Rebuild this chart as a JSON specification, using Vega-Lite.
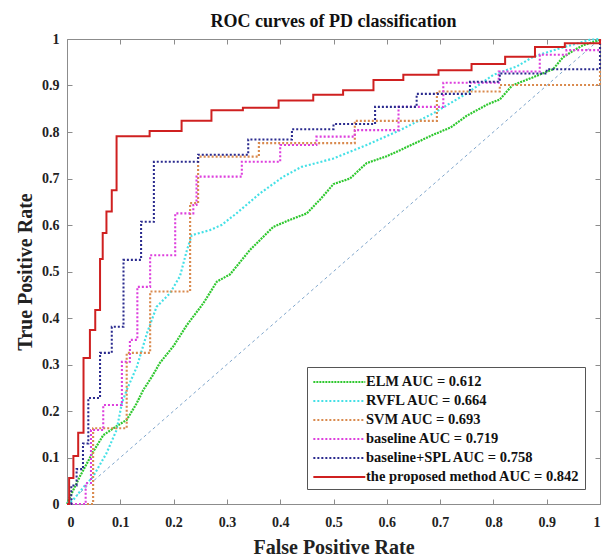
{
  "$schema": "https://vega.github.io/schema/vega-lite/v6.json",
  "autosize": {"type": "none"},
  "padding": {"left": 67, "top": 39, "right": 6, "bottom": 56},
  "width": 533,
  "height": 465,
  "background": "white",
  "title": {
    "text": "ROC curves of PD classification",
    "font": "Liberation Serif",
    "fontSize": 18,
    "fontWeight": "bold",
    "color": "#111",
    "anchor": "middle",
    "offset": 1
  },
  "config": {
    "view": {"stroke": "#8c8c8c", "strokeWidth": 1},
    "axis": {
      "grid": false,
      "domainColor": "#8c8c8c",
      "tickColor": "#8c8c8c",
      "labelFont": "Liberation Serif",
      "labelFontWeight": "bold",
      "labelFontSize": 14,
      "labelColor": "#222",
      "titleFont": "Liberation Serif",
      "titleFontWeight": "bold",
      "titleFontSize": 20,
      "titleColor": "#222"
    },
    "legend": {
      "strokeColor": "#555",
      "fillColor": "white",
      "padding": 5,
      "labelFont": "Liberation Serif",
      "labelFontWeight": "bold",
      "labelFontSize": 14.5,
      "labelColor": "#111",
      "labelLimit": 400,
      "symbolType": "M-1,0H5",
      "symbolSize": 300,
      "rowPadding": 2,
      "labelOffset": 34
    }
  },
  "datasets": {
    "diag": [{"fpr": 0, "tpr": 0}, {"fpr": 1, "tpr": 1}],
    "smooth": [
      {"model": "ELM AUC = 0.612", "fpr": 0, "tpr": 0},
      {"model": "ELM AUC = 0.612", "fpr": 0.006, "tpr": 0.016},
      {"model": "ELM AUC = 0.612", "fpr": 0.024, "tpr": 0.059},
      {"model": "ELM AUC = 0.612", "fpr": 0.049, "tpr": 0.112},
      {"model": "ELM AUC = 0.612", "fpr": 0.068, "tpr": 0.148},
      {"model": "ELM AUC = 0.612", "fpr": 0.09, "tpr": 0.165},
      {"model": "ELM AUC = 0.612", "fpr": 0.112, "tpr": 0.181},
      {"model": "ELM AUC = 0.612", "fpr": 0.13, "tpr": 0.215},
      {"model": "ELM AUC = 0.612", "fpr": 0.143, "tpr": 0.245},
      {"model": "ELM AUC = 0.612", "fpr": 0.16, "tpr": 0.275},
      {"model": "ELM AUC = 0.612", "fpr": 0.174, "tpr": 0.303},
      {"model": "ELM AUC = 0.612", "fpr": 0.2, "tpr": 0.34},
      {"model": "ELM AUC = 0.612", "fpr": 0.225, "tpr": 0.385},
      {"model": "ELM AUC = 0.612", "fpr": 0.256, "tpr": 0.432},
      {"model": "ELM AUC = 0.612", "fpr": 0.281, "tpr": 0.478},
      {"model": "ELM AUC = 0.612", "fpr": 0.306, "tpr": 0.494},
      {"model": "ELM AUC = 0.612", "fpr": 0.343, "tpr": 0.546},
      {"model": "ELM AUC = 0.612", "fpr": 0.387, "tpr": 0.596},
      {"model": "ELM AUC = 0.612", "fpr": 0.418, "tpr": 0.611},
      {"model": "ELM AUC = 0.612", "fpr": 0.45, "tpr": 0.625},
      {"model": "ELM AUC = 0.612", "fpr": 0.475, "tpr": 0.655},
      {"model": "ELM AUC = 0.612", "fpr": 0.5, "tpr": 0.688},
      {"model": "ELM AUC = 0.612", "fpr": 0.531, "tpr": 0.7},
      {"model": "ELM AUC = 0.612", "fpr": 0.562, "tpr": 0.733},
      {"model": "ELM AUC = 0.612", "fpr": 0.6, "tpr": 0.748},
      {"model": "ELM AUC = 0.612", "fpr": 0.625, "tpr": 0.761},
      {"model": "ELM AUC = 0.612", "fpr": 0.687, "tpr": 0.794},
      {"model": "ELM AUC = 0.612", "fpr": 0.72, "tpr": 0.81},
      {"model": "ELM AUC = 0.612", "fpr": 0.75, "tpr": 0.835},
      {"model": "ELM AUC = 0.612", "fpr": 0.79, "tpr": 0.86},
      {"model": "ELM AUC = 0.612", "fpr": 0.812, "tpr": 0.87},
      {"model": "ELM AUC = 0.612", "fpr": 0.835, "tpr": 0.9},
      {"model": "ELM AUC = 0.612", "fpr": 0.875, "tpr": 0.918},
      {"model": "ELM AUC = 0.612", "fpr": 0.912, "tpr": 0.935},
      {"model": "ELM AUC = 0.612", "fpr": 0.93, "tpr": 0.96},
      {"model": "ELM AUC = 0.612", "fpr": 0.95, "tpr": 0.975},
      {"model": "ELM AUC = 0.612", "fpr": 0.969, "tpr": 0.987},
      {"model": "ELM AUC = 0.612", "fpr": 1, "tpr": 0.998},
      {"model": "RVFL AUC = 0.664", "fpr": 0, "tpr": 0},
      {"model": "RVFL AUC = 0.664", "fpr": 0.012, "tpr": 0.009},
      {"model": "RVFL AUC = 0.664", "fpr": 0.03, "tpr": 0.035},
      {"model": "RVFL AUC = 0.664", "fpr": 0.049, "tpr": 0.059},
      {"model": "RVFL AUC = 0.664", "fpr": 0.074, "tpr": 0.109},
      {"model": "RVFL AUC = 0.664", "fpr": 0.093, "tpr": 0.159},
      {"model": "RVFL AUC = 0.664", "fpr": 0.103, "tpr": 0.217},
      {"model": "RVFL AUC = 0.664", "fpr": 0.112, "tpr": 0.245},
      {"model": "RVFL AUC = 0.664", "fpr": 0.131, "tpr": 0.295},
      {"model": "RVFL AUC = 0.664", "fpr": 0.15, "tpr": 0.367},
      {"model": "RVFL AUC = 0.664", "fpr": 0.168, "tpr": 0.424},
      {"model": "RVFL AUC = 0.664", "fpr": 0.193, "tpr": 0.453},
      {"model": "RVFL AUC = 0.664", "fpr": 0.212, "tpr": 0.49},
      {"model": "RVFL AUC = 0.664", "fpr": 0.225, "tpr": 0.546},
      {"model": "RVFL AUC = 0.664", "fpr": 0.234, "tpr": 0.578},
      {"model": "RVFL AUC = 0.664", "fpr": 0.268, "tpr": 0.589},
      {"model": "RVFL AUC = 0.664", "fpr": 0.29, "tpr": 0.6},
      {"model": "RVFL AUC = 0.664", "fpr": 0.318, "tpr": 0.625},
      {"model": "RVFL AUC = 0.664", "fpr": 0.362, "tpr": 0.668},
      {"model": "RVFL AUC = 0.664", "fpr": 0.406, "tpr": 0.704},
      {"model": "RVFL AUC = 0.664", "fpr": 0.44, "tpr": 0.725},
      {"model": "RVFL AUC = 0.664", "fpr": 0.5, "tpr": 0.743},
      {"model": "RVFL AUC = 0.664", "fpr": 0.562, "tpr": 0.772},
      {"model": "RVFL AUC = 0.664", "fpr": 0.625, "tpr": 0.804},
      {"model": "RVFL AUC = 0.664", "fpr": 0.687, "tpr": 0.84},
      {"model": "RVFL AUC = 0.664", "fpr": 0.75, "tpr": 0.883},
      {"model": "RVFL AUC = 0.664", "fpr": 0.8, "tpr": 0.923},
      {"model": "RVFL AUC = 0.664", "fpr": 0.844, "tpr": 0.941},
      {"model": "RVFL AUC = 0.664", "fpr": 0.875, "tpr": 0.962},
      {"model": "RVFL AUC = 0.664", "fpr": 0.925, "tpr": 0.98},
      {"model": "RVFL AUC = 0.664", "fpr": 0.98, "tpr": 0.998},
      {"model": "RVFL AUC = 0.664", "fpr": 1, "tpr": 1}
    ],
    "steps": [
      {"model": "SVM AUC = 0.693", "fpr": 0, "tpr": 0},
      {"model": "SVM AUC = 0.693", "fpr": 0.049, "tpr": 0.163},
      {"model": "SVM AUC = 0.693", "fpr": 0.112, "tpr": 0.325},
      {"model": "SVM AUC = 0.693", "fpr": 0.156, "tpr": 0.457},
      {"model": "SVM AUC = 0.693", "fpr": 0.231, "tpr": 0.647},
      {"model": "SVM AUC = 0.693", "fpr": 0.246, "tpr": 0.747},
      {"model": "SVM AUC = 0.693", "fpr": 0.36, "tpr": 0.776},
      {"model": "SVM AUC = 0.693", "fpr": 0.54, "tpr": 0.824},
      {"model": "SVM AUC = 0.693", "fpr": 0.694, "tpr": 0.887},
      {"model": "SVM AUC = 0.693", "fpr": 0.812, "tpr": 0.901},
      {"model": "SVM AUC = 0.693", "fpr": 1, "tpr": 1},
      {"model": "baseline AUC = 0.719", "fpr": 0, "tpr": 0},
      {"model": "baseline AUC = 0.719", "fpr": 0.035, "tpr": 0.045},
      {"model": "baseline AUC = 0.719", "fpr": 0.045, "tpr": 0.159},
      {"model": "baseline AUC = 0.719", "fpr": 0.068, "tpr": 0.213},
      {"model": "baseline AUC = 0.719", "fpr": 0.103, "tpr": 0.306},
      {"model": "baseline AUC = 0.719", "fpr": 0.118, "tpr": 0.353},
      {"model": "baseline AUC = 0.719", "fpr": 0.132, "tpr": 0.467},
      {"model": "baseline AUC = 0.719", "fpr": 0.156, "tpr": 0.535},
      {"model": "baseline AUC = 0.719", "fpr": 0.203, "tpr": 0.625},
      {"model": "baseline AUC = 0.719", "fpr": 0.237, "tpr": 0.643},
      {"model": "baseline AUC = 0.719", "fpr": 0.243, "tpr": 0.704},
      {"model": "baseline AUC = 0.719", "fpr": 0.328, "tpr": 0.736},
      {"model": "baseline AUC = 0.719", "fpr": 0.4, "tpr": 0.772},
      {"model": "baseline AUC = 0.719", "fpr": 0.468, "tpr": 0.79},
      {"model": "baseline AUC = 0.719", "fpr": 0.54, "tpr": 0.804},
      {"model": "baseline AUC = 0.719", "fpr": 0.622, "tpr": 0.854},
      {"model": "baseline AUC = 0.719", "fpr": 0.706, "tpr": 0.906},
      {"model": "baseline AUC = 0.719", "fpr": 0.81, "tpr": 0.93},
      {"model": "baseline AUC = 0.719", "fpr": 0.887, "tpr": 0.966},
      {"model": "baseline AUC = 0.719", "fpr": 0.937, "tpr": 0.976},
      {"model": "baseline AUC = 0.719", "fpr": 1, "tpr": 1},
      {"model": "baseline+SPL AUC = 0.758", "fpr": 0, "tpr": 0},
      {"model": "baseline+SPL AUC = 0.758", "fpr": 0.008, "tpr": 0.04},
      {"model": "baseline+SPL AUC = 0.758", "fpr": 0.018, "tpr": 0.075},
      {"model": "baseline+SPL AUC = 0.758", "fpr": 0.03, "tpr": 0.13},
      {"model": "baseline+SPL AUC = 0.758", "fpr": 0.04, "tpr": 0.228},
      {"model": "baseline+SPL AUC = 0.758", "fpr": 0.062, "tpr": 0.325},
      {"model": "baseline+SPL AUC = 0.758", "fpr": 0.084, "tpr": 0.381},
      {"model": "baseline+SPL AUC = 0.758", "fpr": 0.106, "tpr": 0.525},
      {"model": "baseline+SPL AUC = 0.758", "fpr": 0.139, "tpr": 0.607},
      {"model": "baseline+SPL AUC = 0.758", "fpr": 0.163, "tpr": 0.736},
      {"model": "baseline+SPL AUC = 0.758", "fpr": 0.246, "tpr": 0.751},
      {"model": "baseline+SPL AUC = 0.758", "fpr": 0.34, "tpr": 0.784},
      {"model": "baseline+SPL AUC = 0.758", "fpr": 0.422, "tpr": 0.806},
      {"model": "baseline+SPL AUC = 0.758", "fpr": 0.5, "tpr": 0.817},
      {"model": "baseline+SPL AUC = 0.758", "fpr": 0.578, "tpr": 0.854},
      {"model": "baseline+SPL AUC = 0.758", "fpr": 0.656, "tpr": 0.882},
      {"model": "baseline+SPL AUC = 0.758", "fpr": 0.756, "tpr": 0.908},
      {"model": "baseline+SPL AUC = 0.758", "fpr": 0.812, "tpr": 0.926},
      {"model": "baseline+SPL AUC = 0.758", "fpr": 0.9, "tpr": 0.935},
      {"model": "baseline+SPL AUC = 0.758", "fpr": 1, "tpr": 1},
      {"model": "the proposed method AUC = 0.842", "fpr": 0, "tpr": 0},
      {"model": "the proposed method AUC = 0.842", "fpr": 0.004, "tpr": 0.056},
      {"model": "the proposed method AUC = 0.842", "fpr": 0.012, "tpr": 0.103},
      {"model": "the proposed method AUC = 0.842", "fpr": 0.021, "tpr": 0.153},
      {"model": "the proposed method AUC = 0.842", "fpr": 0.031, "tpr": 0.314},
      {"model": "the proposed method AUC = 0.842", "fpr": 0.043, "tpr": 0.374},
      {"model": "the proposed method AUC = 0.842", "fpr": 0.053, "tpr": 0.417},
      {"model": "the proposed method AUC = 0.842", "fpr": 0.062, "tpr": 0.527},
      {"model": "the proposed method AUC = 0.842", "fpr": 0.067, "tpr": 0.583},
      {"model": "the proposed method AUC = 0.842", "fpr": 0.074, "tpr": 0.629},
      {"model": "the proposed method AUC = 0.842", "fpr": 0.084, "tpr": 0.675},
      {"model": "the proposed method AUC = 0.842", "fpr": 0.093, "tpr": 0.791},
      {"model": "the proposed method AUC = 0.842", "fpr": 0.155, "tpr": 0.802},
      {"model": "the proposed method AUC = 0.842", "fpr": 0.215, "tpr": 0.824},
      {"model": "the proposed method AUC = 0.842", "fpr": 0.271, "tpr": 0.847},
      {"model": "the proposed method AUC = 0.842", "fpr": 0.33, "tpr": 0.852},
      {"model": "the proposed method AUC = 0.842", "fpr": 0.397, "tpr": 0.868},
      {"model": "the proposed method AUC = 0.842", "fpr": 0.462, "tpr": 0.88},
      {"model": "the proposed method AUC = 0.842", "fpr": 0.518, "tpr": 0.89},
      {"model": "the proposed method AUC = 0.842", "fpr": 0.575, "tpr": 0.912},
      {"model": "the proposed method AUC = 0.842", "fpr": 0.631, "tpr": 0.923},
      {"model": "the proposed method AUC = 0.842", "fpr": 0.697, "tpr": 0.933},
      {"model": "the proposed method AUC = 0.842", "fpr": 0.759, "tpr": 0.946},
      {"model": "the proposed method AUC = 0.842", "fpr": 0.822, "tpr": 0.962},
      {"model": "the proposed method AUC = 0.842", "fpr": 0.878, "tpr": 0.983},
      {"model": "the proposed method AUC = 0.842", "fpr": 0.934, "tpr": 0.991},
      {"model": "the proposed method AUC = 0.842", "fpr": 1, "tpr": 1}
    ]
  },
  "layer": [
    {
      "data": {"name": "diag"},
      "mark": {"type": "line", "color": "#7fa6cc", "strokeWidth": 1, "strokeDash": [3, 3]},
      "encoding": {
        "x": {"field": "fpr", "type": "quantitative", "scale": {"domain": [0, 1], "nice": false},
          "axis": {"orient": "top", "labels": false, "title": null, "domain": false, "values": [0,0.1,0.2,0.3,0.4,0.5,0.6,0.7,0.8,0.9,1], "tickSize": -5}},
        "y": {"field": "tpr", "type": "quantitative", "scale": {"domain": [0, 1], "nice": false},
          "axis": {"orient": "right", "labels": false, "title": null, "domain": false, "values": [0,0.1,0.2,0.3,0.4,0.5,0.6,0.7,0.8,0.9,1], "tickSize": -5}}
      }
    },
    {
      "data": {"name": "smooth"},
      "mark": {"type": "line", "interpolate": "linear"},
      "encoding": {
        "x": {"field": "fpr", "type": "quantitative", "scale": {"domain": [0, 1], "nice": false},
          "axis": {"orient": "bottom", "title": "False Positive Rate", "format": "~g", "values": [0,0.1,0.2,0.3,0.4,0.5,0.6,0.7,0.8,0.9,1], "tickSize": -5, "labelPadding": 16, "titlePadding": 8, "domain": false}},
        "y": {"field": "tpr", "type": "quantitative", "scale": {"domain": [0, 1], "nice": false},
          "axis": {"orient": "left", "title": "True Positive Rate", "format": "~g", "values": [0,0.1,0.2,0.3,0.4,0.5,0.6,0.7,0.8,0.9,1], "tickSize": -5, "labelPadding": 13, "titlePadding": 6, "domain": false}},
        "color": {"field": "model", "type": "nominal", "title": null,
          "scale": {"domain": ["ELM AUC = 0.612", "RVFL AUC = 0.664", "SVM AUC = 0.693", "baseline AUC = 0.719", "baseline+SPL AUC = 0.758", "the proposed method AUC = 0.842"],
                    "range": ["#2fc82f", "#44e0e6", "#d98a4e", "#dd3fdd", "#2a2a8e", "#cf2020"]},
          "legend": {"orient": "none", "legendX": 240, "legendY": 328}},
        "strokeDash": {"field": "model", "type": "nominal", "title": null,
          "scale": {"domain": ["ELM AUC = 0.612", "RVFL AUC = 0.664", "SVM AUC = 0.693", "baseline AUC = 0.719", "baseline+SPL AUC = 0.758", "the proposed method AUC = 0.842"],
                    "range": [[2, 1], [2, 2], [2, 2], [2, 2], [2, 2], [1, 0]]}},
        "strokeWidth": {"field": "model", "type": "nominal", "title": null,
          "scale": {"domain": ["ELM AUC = 0.612", "RVFL AUC = 0.664", "SVM AUC = 0.693", "baseline AUC = 0.719", "baseline+SPL AUC = 0.758", "the proposed method AUC = 0.842"],
                    "range": [2.2, 2, 2, 2, 2, 3]}}
      }
    },
    {
      "data": {"name": "steps"},
      "mark": {"type": "line", "interpolate": "step-after"},
      "encoding": {
        "x": {"field": "fpr", "type": "quantitative", "axis": null},
        "y": {"field": "tpr", "type": "quantitative", "axis": null},
        "color": {"field": "model", "type": "nominal"},
        "strokeDash": {"field": "model", "type": "nominal"},
        "strokeWidth": {"field": "model", "type": "nominal"}
      }
    }
  ],
  "resolve": {"axis": {"x": "independent", "y": "independent"}}
}
